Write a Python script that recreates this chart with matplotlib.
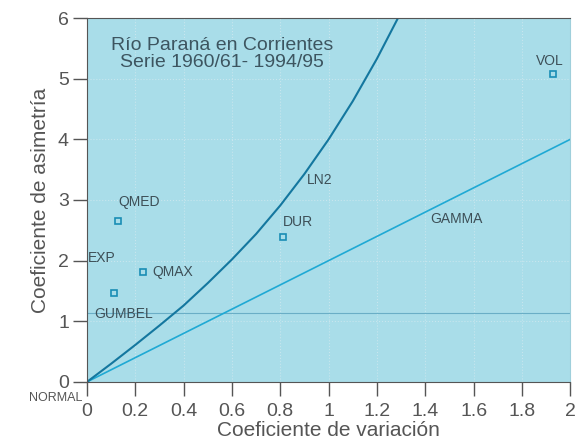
import numpy as np
import matplotlib.pyplot as plt

plt.rcParams['font.family'] = ['Liberation Sans', 'DejaVu Sans']

# theoretical curves
ln2_cv = [0, 0.1, 0.2, 0.3, 0.4, 0.5, 0.6, 0.7, 0.8, 0.9, 1.0, 1.1, 1.2, 1.3]
ln2_cs = [0, 0.30, 0.61, 0.93, 1.26, 1.63, 2.02, 2.44, 2.91, 3.43, 4.0, 4.63, 5.33, 6.10]
gamma_cv = [0, 2]
gamma_cs = [0, 4]
gumbel_cs = 1.14

# observed series
pt_names = ['QMED', 'QMAX', 'GUMBEL', 'DUR', 'VOL']
pt_cv = [0.13, 0.23, 0.11, 0.81, 1.93]
pt_cs = [2.65, 1.82, 1.46, 2.39, 5.08]

fig = plt.figure(figsize=(5.76, 4.41), dpi=100)
ax = fig.add_axes([0.151, 0.134, 0.839, 0.825])
ax.set_facecolor('#a9dde9')

ax.grid(True, color='#c8e6ee', linestyle=':', linewidth=0.8)
ax.set_axisbelow(True)

ax.axhline(gumbel_cs, color='#6aaec6', linewidth=0.8)
ax.plot(gamma_cv, gamma_cs, color='#1fa9d4', linewidth=1.2)
ax.plot(ln2_cv, ln2_cs, color='#14779f', linewidth=1.5)
ax.plot(pt_cv, pt_cs, linestyle='none', marker='s', markersize=5,
        markerfacecolor='none', markeredgecolor='#1a8db5', markeredgewidth=1.2)

lab = dict(color='#3d4f57', fontsize=10)
ax.text(0.13, 2.9, 'QMED', **lab)
ax.text(0.27, 1.82, 'QMAX', va='center', **lab)
ax.text(0.005, 2.05, 'EXP', va='center', **lab)
ax.text(0.03, 1.06, 'GUMBEL', **lab)
ax.text(0.81, 2.57, 'DUR', **lab)
ax.text(1.86, 5.22, 'VOL', **lab)
ax.text(0.91, 3.27, 'LN2', **lab)
ax.text(1.42, 2.62, 'GAMMA', **lab)
ax.text(-0.02, -0.17, 'NORMAL', ha='right', va='top', color='#555555', fontsize=9,
        clip_on=False)
ax.text(0.56, 5.4, 'Río Paraná en Corrientes\nSerie 1960/61- 1994/95',
        ha='center', va='center', color='#3d5560', fontsize=14, linespacing=1.0)

ax.set_xlim(0, 2)
ax.set_ylim(0, 6)
ax.set_xticks(np.arange(0, 2.01, 0.2))
ax.set_xticklabels(['0', '0.2', '0.4', '0.6', '0.8', '1', '1.2', '1.4', '1.6', '1.8', '2'])
ax.set_yticks(range(7))
ax.tick_params(direction='out', length=10, width=1, colors='#555555',
               labelsize=14)
ax.tick_params(axis='x', pad=5)
ax.tick_params(axis='y', pad=3)
ax.set_xlabel('Coeficiente de variación', color='#555555', fontsize=15, labelpad=1)
ax.set_ylabel('Coeficiente de asimetría', color='#555555', fontsize=15, labelpad=6)

for s in ['left', 'bottom', 'top']:
    ax.spines[s].set_color('#555555')
ax.spines['right'].set_color('#9fcfdb')

fig.savefig('out.png', dpi=100)
